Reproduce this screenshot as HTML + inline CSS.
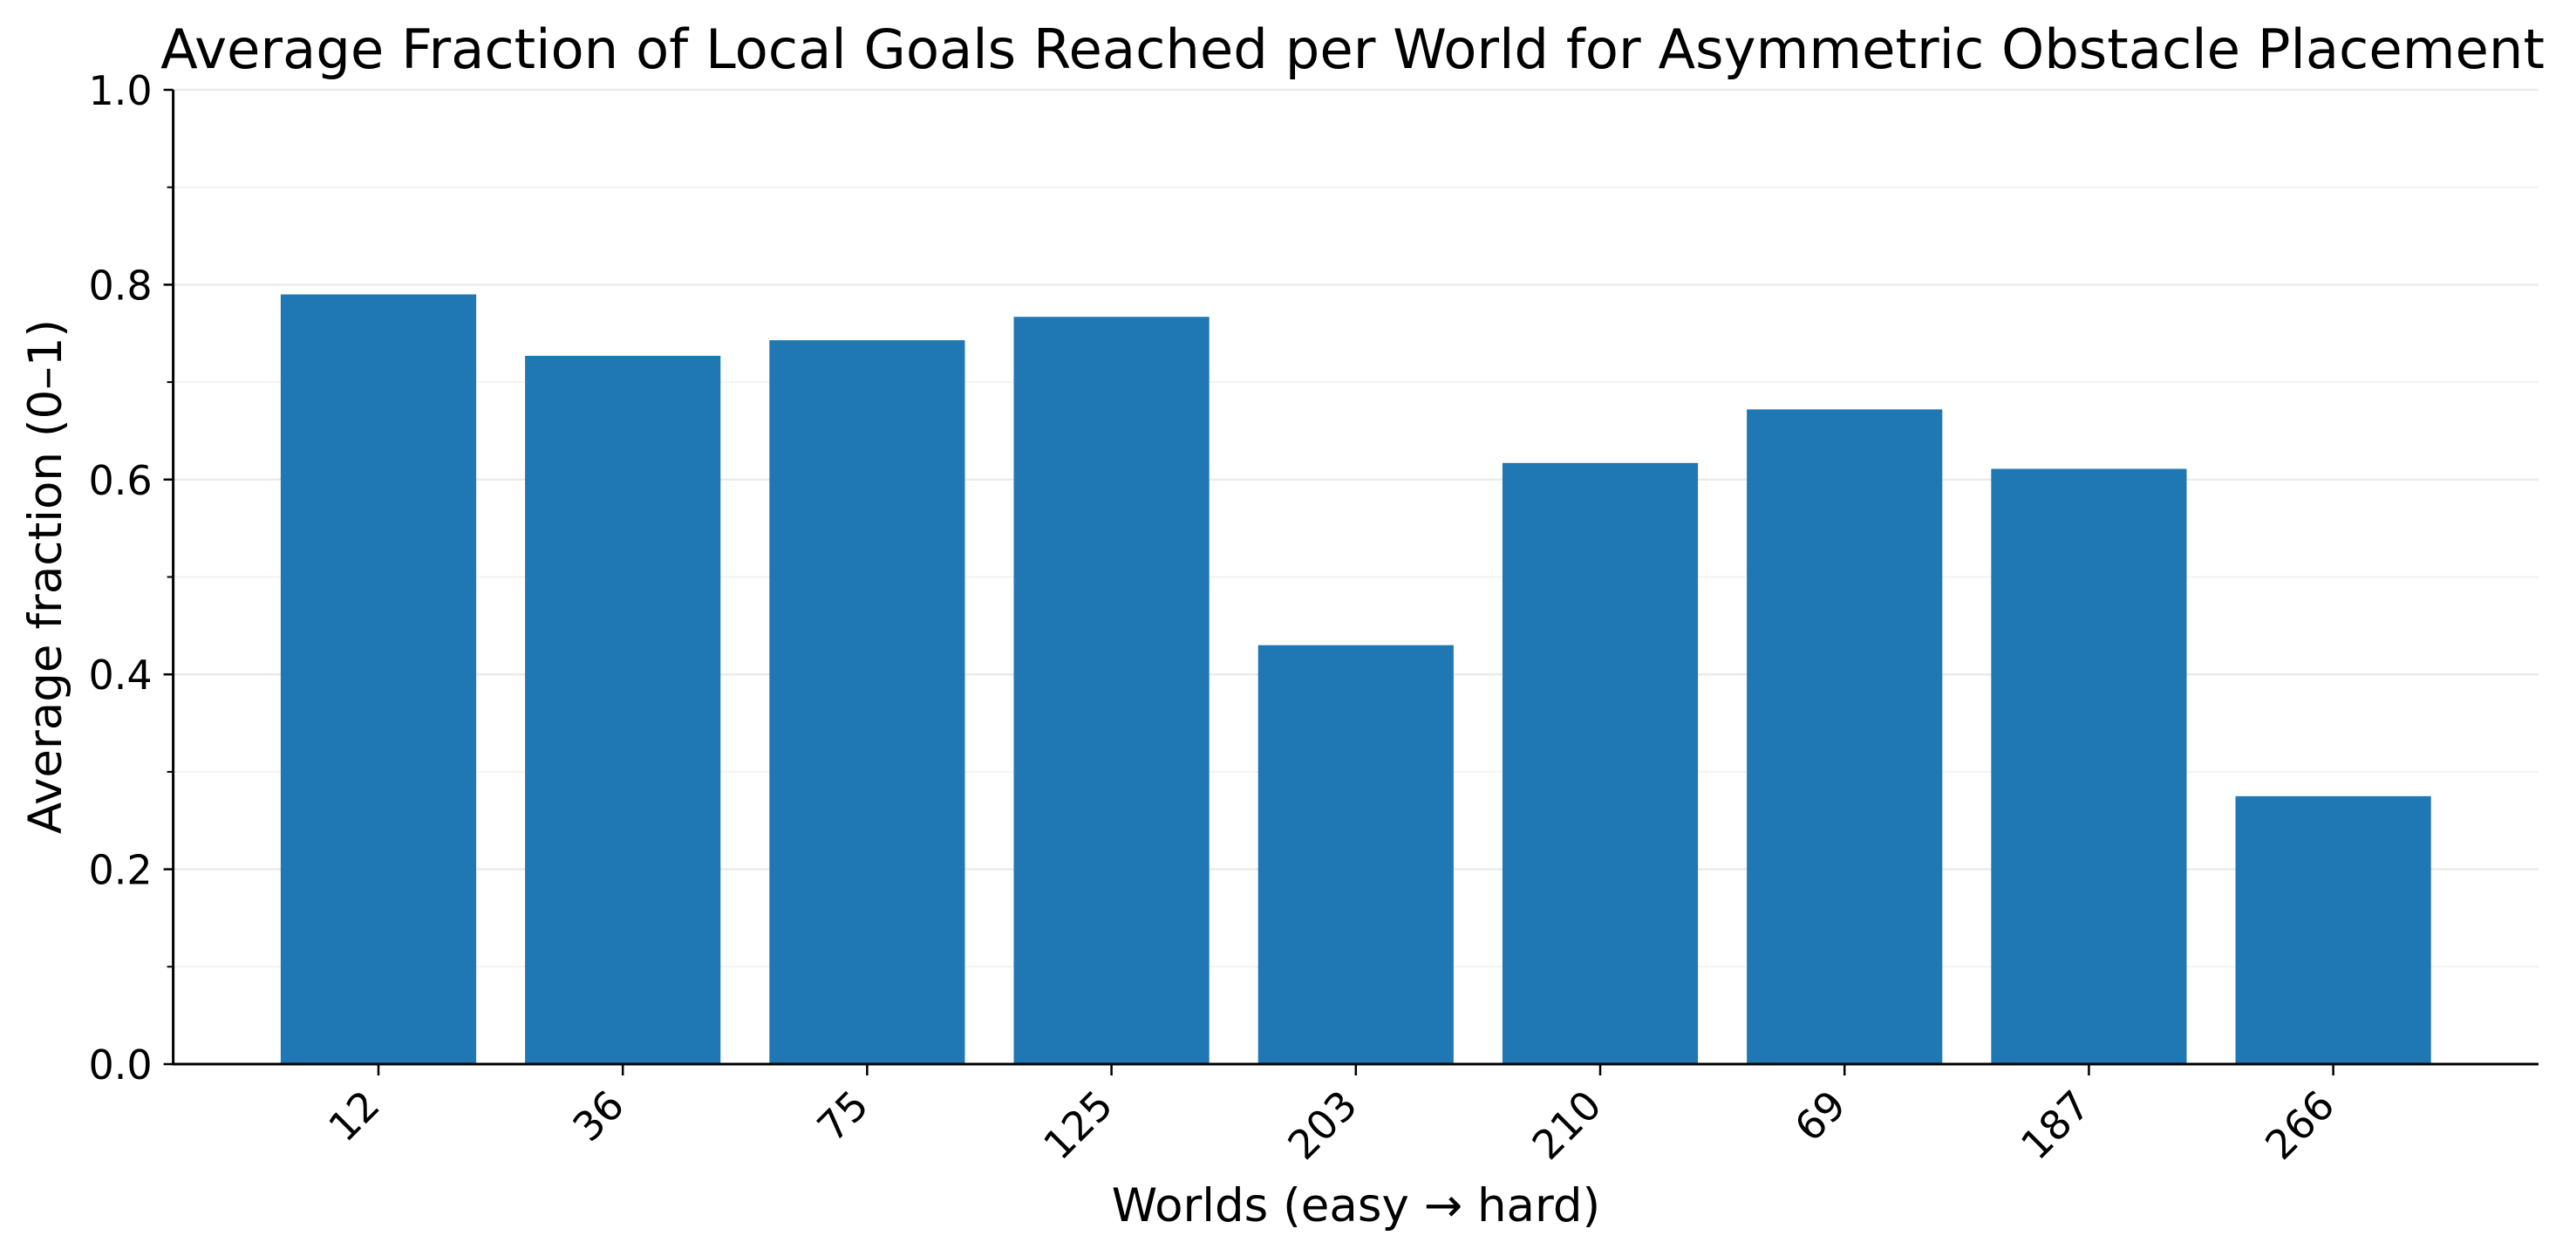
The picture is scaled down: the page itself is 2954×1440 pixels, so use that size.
<!DOCTYPE html>
<html><head><meta charset="utf-8"><style>
html,body{margin:0;padding:0;background:#fff;}
svg{display:block;font-family:"DejaVu Sans","Liberation Sans",sans-serif;}
</style></head><body>
<svg id="chart" width="2954" height="1440" viewBox="0 0 2954 1440" xmlns="http://www.w3.org/2000/svg">
<rect width="2954" height="1440" fill="#fff"/>
<text x="1551" y="78" font-size="62.4" text-anchor="middle" fill="#000">Average Fraction of Local Goals Reached per World for Asymmetric Obstacle Placement</text>
<g id="grid"></g><g id="bars"></g><g id="axes"></g>
<text x="1555" y="1400" font-size="53" text-anchor="middle" fill="#000">Worlds (easy → hard)</text>
<text transform="translate(70,661) rotate(-90)" font-size="53" text-anchor="middle" fill="#000">Average fraction (0–1)</text>
</svg>
<script>
const categories = ["12","36","75","125","203","210","69","187","266"];
const values = [0.790,0.727,0.743,0.767,0.430,0.617,0.672,0.611,0.275];
const yTicks = [0,0.2,0.4,0.6,0.8,1.0];
const yTickLabels = ["0.0","0.2","0.4","0.6","0.8","1.0"];
const yMinor = [0.1,0.3,0.5,0.7,0.9];

const NS="http://www.w3.org/2000/svg";
const L=198.6,R=2911,T=103,B=1220;
const xmin=-0.84,xmax=categories.length-1+0.84;
const x=v=>L+(v-xmin)/(xmax-xmin)*(R-L);
const y=v=>B-(v-0)/(1-0)*(B-T);
function mk(tag,attrs,parent){const e=document.createElementNS(NS,tag);for(const k in attrs)e.setAttribute(k,attrs[k]);parent.appendChild(e);return e;}
const grid=document.getElementById('grid'),bars=document.getElementById('bars'),axes=document.getElementById('axes');
yMinor.forEach(v=>{const g=mk('line',{x1:L,x2:R,y1:y(v),y2:y(v),stroke:'#f3f3f3','stroke-width':2},grid);


const t=mk('line',{x1:L-7,x2:L,y1:y(v),y2:y(v),stroke:'#000','stroke-width':2},axes);

});
yTicks.forEach((v,i)=>{const g=mk('line',{x1:L,x2:R,y1:y(v),y2:y(v),stroke:'#ebebeb','stroke-width':2.5},grid);


const t=mk('line',{x1:L-11,x2:L,y1:y(v),y2:y(v),stroke:'#000','stroke-width':2.5},axes);


const tx=mk('text',{x:L-24,y:y(v)+17,'font-size':46,'text-anchor':'end',fill:'#000'},axes);
tx.textContent=yTickLabels[i];

});
categories.forEach((c,i)=>{const w=0.8;const r=mk('rect',{x:x(i-w/2),y:y(values[i]),width:x(i+w/2)-x(i-w/2),height:y(0)-y(values[i]),fill:'#1f77b4'},bars);


const t=mk('line',{x1:x(i),x2:x(i),y1:B,y2:B+13,stroke:'#000','stroke-width':2.5},axes);


const tx=mk('text',{transform:`translate(${x(i)+4},${B+50}) rotate(-45)`,'font-size':46,'text-anchor':'end',fill:'#000'},axes);
tx.textContent=c;

});
const ls=mk('line',{x1:L,x2:L,y1:T,y2:B+1,stroke:'#000','stroke-width':3},axes);


const bs=mk('line',{x1:L-1,x2:R,y1:B,y2:B,stroke:'#000','stroke-width':3},axes);


</script>
</body></html>
